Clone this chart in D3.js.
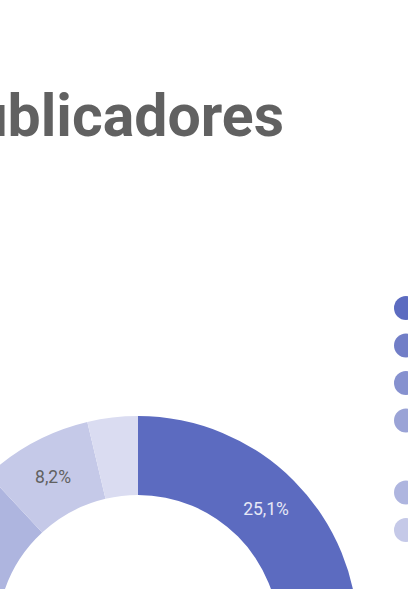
<!DOCTYPE html>
<html>
<head>
<meta charset="utf-8">
<script src="https://cdn.jsdelivr.net/npm/d3@7"></script>
<style>
  html, body { margin: 0; padding: 0; background: #ffffff; overflow: hidden; }
  svg { display: block; font-family: Roboto, "Noto Sans", sans-serif; }
</style>
</head>
<body>
<svg id="chart" width="408" height="589"></svg>
<script>
// ---- data ----
const titleText = "Publicadores";
const categories = ["Categoria 1", "Categoria 2", "Categoria 3", "Categoria 4\n(continuação)", "Categoria 5", "Categoria 6\n(continuação)", "Categoria 7"];
const shares = [25.1, 21.3, 17.6, 14.5, 9.6, 8.2, 3.7];
const palette = ["#5c6bc0", "#717ec7", "#8691cf", "#9aa3d6", "#aeb5df", "#c5c9e8", "#dadcf1"];

const W = 408, H = 589;
const svg = d3.select("#chart");

// title (cut off on the left, like the reference)
svg.append("text")
  .attr("x", 284).attr("y", 136)
  .attr("text-anchor", "end")
  .attr("font-size", 59).attr("font-weight", 700)
  .attr("fill", "#616161")
  .text(titleText);

// donut
const cx = 138, cy = 636, rOuter = 220, rInner = 141;
const pie = d3.pie().sort(null).value(d => d);
const arc = d3.arc().innerRadius(rInner).outerRadius(rOuter);
const color = d3.scaleOrdinal().domain(d3.range(shares.length)).range(palette);
const arcs = pie(shares);

const g = svg.append("g").attr("transform", `translate(${cx},${cy})`);
g.selectAll("path").data(arcs).join("path")
  .attr("d", arc)
  .attr("fill", (d, i) => color(i));

const fmt = v => d3.format(".1f")(v).replace(".", ",") + "%";
g.selectAll("text.lbl").data(arcs.filter(d => d.data >= 5)).join("text")
  .attr("class", "lbl")
  .attr("transform", d => `translate(${arc.centroid(d)})`)
  .attr("text-anchor", "middle")
  .attr("dy", "0.35em")
  .attr("font-size", 17.5)
  .attr("fill", d => d.index < 3 ? "#e6e8f6" : "#616161")
  .text(d => fmt(d.data));

// legend (mostly outside the visible area on the right)
const lineStep = 37.5, extraLine = 34.5;
let yAcc = 308;
const legendY = categories.map(c => { const y = yAcc; yAcc += lineStep + (c.split("\n").length - 1) * extraLine; return y; });
const lg = svg.append("g");
const items = lg.selectAll("g").data(categories).join("g")
  .attr("transform", (d, i) => `translate(406,${legendY[i]})`);
items.append("circle").attr("r", 12).attr("fill", (d, i) => color(i));
items.append("text")
  .attr("x", 22).attr("dy", "0.35em")
  .attr("font-size", 16).attr("fill", "#616161")
  .selectAll("tspan").data(d => d.split("\n")).join("tspan")
  .attr("x", 22).attr("dy", (d, i) => i ? 34.5 : 0)
  .text(d => d);
</script>
</body>
</html>
